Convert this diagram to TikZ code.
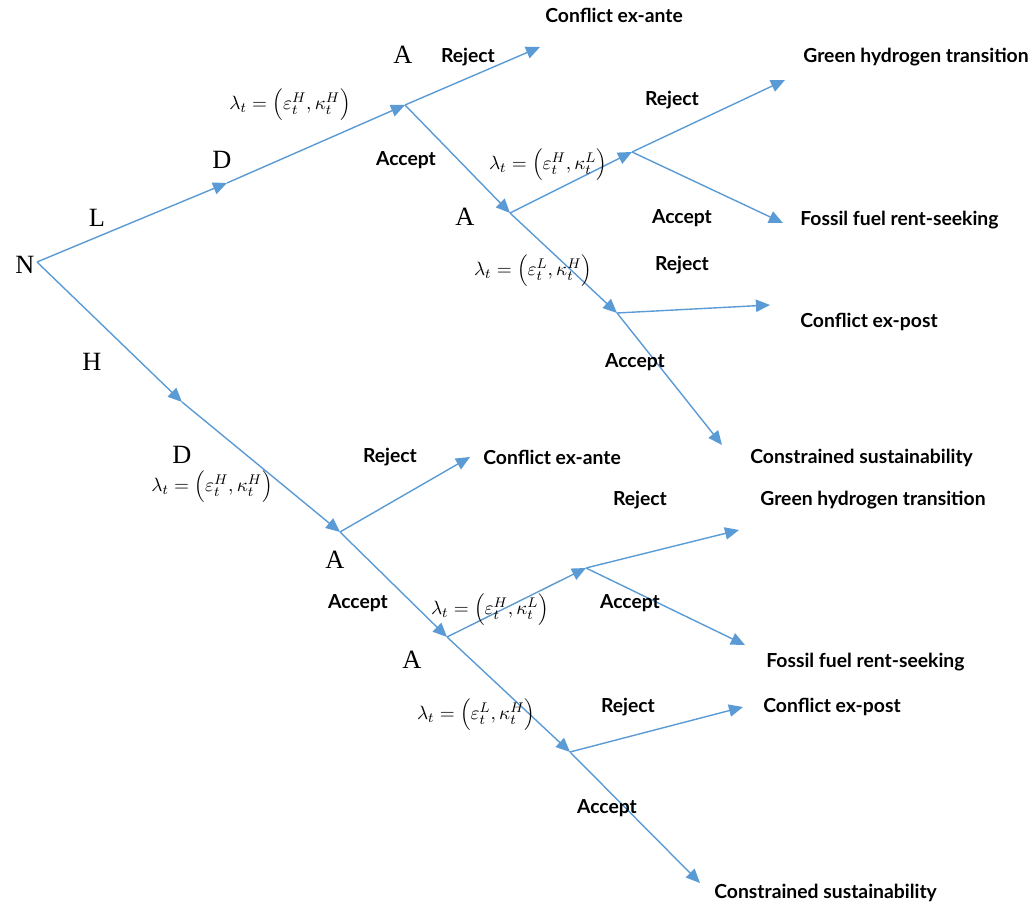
\documentclass[tikz,border=0pt]{standalone}
\usepackage{fontspec}
\setmainfont{Liberation Serif}
\newfontfamily\labfont{Lato}
\usetikzlibrary{arrows.meta}
\definecolor{treeblue}{RGB}{91,155,213}

\begin{document}
\begin{tikzpicture}[x=0.02cm,y=-0.02cm,
    branch/.style={treeblue,line width=0.8pt,-{Triangle[length=8pt,width=7pt]}},
    player/.style={font=\fontsize{15}{18}\selectfont},
    move/.style={font=\labfont\bfseries\fontsize{11}{13}\selectfont},
    outcome/.style={anchor=west,inner sep=0pt,font=\labfont\bfseries\fontsize{11}{13}\selectfont},
    belief/.style={font=\fontsize{11}{13}\selectfont}]

    \useasboundingbox (0,0) rectangle (1034,911);

    % tree points
    \coordinate (root) at (37,262);
    \coordinate (dL) at (227,183);
    \coordinate (jL1) at (405,105);
    \coordinate (xL1) at (540,47);
    \coordinate (aL2) at (510,213);
    \coordinate (jL2) at (632,152);
    \coordinate (xL2) at (785,80);
    \coordinate (xL3) at (783,223);
    \coordinate (jL3) at (617,313);
    \coordinate (xL4) at (770,305);
    \coordinate (xL5) at (722,445);
    \coordinate (dH) at (182,402);
    \coordinate (jH1) at (340,532);
    \coordinate (xH1) at (470,457);
    \coordinate (aH2) at (447,637);
    \coordinate (jH2) at (586,568);
    \coordinate (xH2) at (739,530);
    \coordinate (xH3) at (745,645);
    \coordinate (jH3) at (570,752);
    \coordinate (xH4) at (743,707);
    \coordinate (xH5) at (700,883);

    \foreach \a/\b in {root/dL,dL/jL1,jL1/xL1,jL1/aL2,aL2/jL2,jL2/xL2,jL2/xL3,aL2/jL3,jL3/xL4,jL3/xL5,
                       root/dH,dH/jH1,jH1/xH1,jH1/aH2,aH2/jH2,jH2/xH2,jH2/xH3,aH2/jH3,jH3/xH4,jH3/xH5}
        \draw[branch] (\a) -- (\b);

    % players
    \node[player] (N) at (25,265) {N};
    \node[player] (L) at (97,218) {L};
    \node[player] (D1) at (222,160) {D};
    \node[player] (A1) at (403,55) {A};
    \node[player] (A2) at (465,217) {A};
    \node[player] (H) at (92,362) {H};
    \node[player] (D2) at (182,455) {D};
    \node[player] (A3) at (335,560) {A};
    \node[player] (A4) at (412,660) {A};

    % moves
    \node[move] (r1) at (468,57) {Reject};
    \node[move] (c1) at (406,160) {Accept};
    \node[move] (r2) at (672,100) {Reject};
    \node[move] (c2) at (682,218) {Accept};
    \node[move] (r3) at (682,265) {Reject};
    \node[move] (c3) at (635,362) {Accept};
    \node[move] (r4) at (390,457) {Reject};
    \node[move] (r5) at (640,500) {Reject};
    \node[move] (c4) at (358,603) {Accept};
    \node[move] (c5) at (630,603) {Accept};
    \node[move] (r6) at (628,707) {Reject};
    \node[move] (c6) at (607,808) {Accept};

    % beliefs
    \node[belief] (b1) at (290,105) {$\lambda_t=\left(\varepsilon_t^H,\kappa_t^H\right)$};
    \node[belief] (b2) at (548,165) {$\lambda_t=\left(\varepsilon_t^H,\kappa_t^L\right)$};
    \node[belief] (b3) at (533,271) {$\lambda_t=\left(\varepsilon_t^L,\kappa_t^H\right)$};
    \node[belief] (b4) at (212,487) {$\lambda_t=\left(\varepsilon_t^H,\kappa_t^H\right)$};
    \node[belief] (b5) at (490,610) {$\lambda_t=\left(\varepsilon_t^H,\kappa_t^L\right)$};
    \node[belief] (b6) at (476,715) {$\lambda_t=\left(\varepsilon_t^L,\kappa_t^H\right)$};

    % outcomes
    \node[outcome] (o1) at (545,15) {Conflict ex-ante};
    \node[outcome] (o2) at (803,57) {Green hydrogen transition};
    \node[outcome] (o3) at (800,220) {Fossil fuel rent-seeking};
    \node[outcome] (o4) at (800,322) {Conflict ex-post};
    \node[outcome] (o5) at (750,458) {Constrained sustainability};
    \node[outcome] (o6) at (483,457) {Conflict ex-ante};
    \node[outcome] (o7) at (760,500) {Green hydrogen transition};
    \node[outcome] (o8) at (766,662) {Fossil fuel rent-seeking};
    \node[outcome] (o9) at (763,707) {Conflict ex-post};
    \node[outcome] (o10) at (714,893) {Constrained sustainability};

\end{tikzpicture}
\end{document}
